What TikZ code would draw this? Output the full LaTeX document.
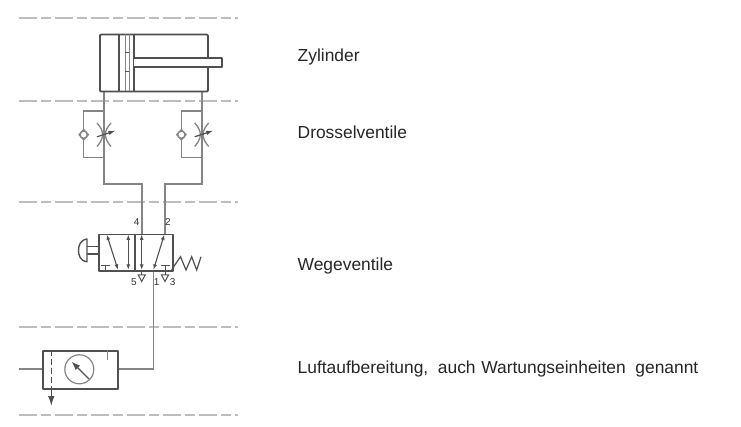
\documentclass[tikz,border=0pt]{standalone}
\usepackage{fontspec}
\setmainfont{Liberation Sans}[WordSpace=2]
\usetikzlibrary{arrows.meta,calc}
\definecolor{ink}{HTML}{505050}
\definecolor{pipe}{HTML}{858585}
\definecolor{sep}{HTML}{BDBDBD}
\tikzset{
  sepline/.style={draw=sep,line width=1.3pt,dash pattern=on 18pt off 4pt on 10pt off 4pt},
  body/.style={draw=ink,line width=1.8pt,line join=round},
  thin part/.style={draw=ink,line width=1pt},
  pipeline/.style={draw=pipe,line width=1.6pt,line join=miter},
  flow2/.style={draw=ink,line width=1.1pt,{Latex[length=5.5pt,width=4pt]}-{Latex[length=5.5pt,width=4pt]}},
  caption/.style={anchor=west,inner sep=0pt,font=\fontsize{17.4}{20}\selectfont,text=black!85},
  portno/.style={inner sep=0pt,font=\fontsize{10}{12}\selectfont,text=black!80},
}
\begin{document}
\begin{tikzpicture}[x=1pt,y=-1pt]
\useasboundingbox (0,0) rectangle (741,427);
\fill[white] (0,0) rectangle (741,427);
% separators
\foreach \y/\n in {18/a,101/b,202/c,327/d,415/e}{
  \coordinate (sepL\n) at (19,\y); \coordinate (sepR\n) at (238,\y);
  \draw[sepline] (sepL\n) -- (sepR\n);
}
% anchor points
\coordinate (cylL) at (104,90.7);
\coordinate (cylR) at (201.7,90.7);
\coordinate (tlT) at (104,111); \coordinate (tlB) at (104,157.7);
\coordinate (trT) at (201.7,111); \coordinate (trB) at (201.7,157.7);
\coordinate (v4) at (141.7,233.7);
\coordinate (v2) at (165,233.7);
\coordinate (v1) at (153.3,270.3);
\coordinate (unitR) at (117,369);
\coordinate (unitL) at (42.3,369);
\coordinate (inlet) at (19.3,369);
% pipes
\draw[pipeline] (cylL) -- (tlT) -- (tlB) -- (104,184) -| (v4);
\draw[pipeline] (cylR) -- (trT) -- (trB) -- (201.7,184) -| (v2);
\draw[pipeline] (v1) |- (unitR);
\draw[pipeline] (inlet) -- (unitL);
% bypass + throttle
\foreach \x/\n in {104/l,201.7/r}{
  \draw[pipeline,line width=1.4pt] (\x,111) -| (\x-20.3,130.5);
  \draw[pipeline,line width=1.4pt] (\x,157.7) -| (\x-20.3,139);
  \draw[pipeline,line width=1.3pt,fill=white] (\x-20.3,129.5) -- (\x-15.7,134.7) -- (\x-20.3,139.9) -- (\x-24.9,134.7) -- cycle;
  \draw[draw=pipe,line width=1.3pt,fill=white] (\x-20.3,134.7) circle (3.6);
  \draw[pipeline,line width=1.3pt] (\x-7,123) .. controls (\x+0.5,131) and (\x+0.5,138) .. (\x-7,146.5);
  \draw[pipeline,line width=1.3pt] (\x+7,123) .. controls (\x-0.5,131) and (\x-0.5,138) .. (\x+7,146.5);
  \draw[draw=ink,line width=1.2pt,-{Latex[length=7pt,width=4.5pt]}] (\x-7,136.8) -- (\x+11.5,130.7);
}
% cylinder
\node[body,minimum width=108pt,minimum height=57pt,inner sep=0pt,rounded corners=1pt,anchor=north west] (cyl) at (99,33.7) {};
\draw[body] (119.3,33.7) -- (119.3,90.7);
\draw[body] (134,33.7) -- (134,90.7);
\draw[thin part,pipe] (125.3,33.7) -- (125.3,90.7);
\draw[thin part,pipe] (129.3,33.7) -- (129.3,90.7);
\draw[thin part] (125.3,52.5) -- (129.3,52.5);
\draw[thin part] (125.3,72) -- (129.3,72);
\draw[body,fill=white] (134,57.7) -- (222,57.7) -- (222,66.7) -- (134,66.7);
% valve
\node[body,minimum width=74pt,minimum height=36.6pt,inner sep=0pt,anchor=north west] (valve) at (97.7,233.7) {};
\draw[body] (134.7,233.7) -- (134.7,270.3);
\draw[flow2] (106.7,234.5) -- (118,269.8);
\draw[flow2] (128.3,234.5) -- (128.3,269.8);
\draw[flow2] (141.7,234.5) -- (141.7,269.8);
\draw[flow2] (164.3,234.5) -- (153.5,269.8);
\foreach \x in {105,165}{
  \draw[thin part] (\x-4.5,265.3) -- (\x+4.5,265.3);
  \draw[thin part] (\x,265.3) -- (\x,270.3);
}
% port triangles
\coordinate (p5) at (141.7,270.3);
\coordinate (p3) at (165,270.3);
\draw[thin part] (p5) -- (141.7,275);
\draw[thin part] (p3) -- (165,275);
\draw[thin part,fill=white] (138.2,275) -- (145.2,275) -- (141.7,281.5) -- cycle;
\draw[thin part,fill=white] (161.5,275) -- (168.5,275) -- (165,281.5) -- cycle;
% push button
\draw[body,line width=1.4pt] (97.7,246.7) -- (87,246.7);
\draw[body,line width=1.4pt] (97.7,254) -- (87,254);
\draw[body,line width=1.4pt,fill=white] (87,239) .. controls (80,240) and (78.5,246) .. (78.5,250.4) .. controls (78.5,255) and (80,261) .. (87,261.7) -- cycle;
% spring
\draw[draw=ink,line width=1.2pt,line join=miter] (171.7,270) -- (173.5,267) -- (180.5,256.7) -- (186,270) -- (191.7,256.7) -- (196.7,270) -- (201,256.7);
% service unit
\node[body,minimum width=74.7pt,minimum height=37.7pt,inner sep=0pt,anchor=north west] (unit) at (42.3,350.3) {};
\draw[draw=ink,line width=1.2pt,dash pattern=on 6pt off 3pt] (51.3,350.3) -- (51.3,388);
\draw[draw=ink,line width=1.2pt,-{Latex[length=10pt,width=6.5pt]}] (51.3,388) -- (51.3,406);
\draw[thin part,pipe,line width=1.2pt] (107.7,350.3) -- (107.7,360);
\node[draw=pipe,line width=1.2pt,circle,minimum size=29pt,inner sep=0pt] (gauge) at (79.3,369.3) {};
\draw[draw=ink,line width=1.4pt,-{Latex[length=9pt,width=6.5pt]}] (89,379) -- (71.5,361.5);
% port labels
\node[portno] (n4) at (136.7,222.5) {4};
\node[portno] (n2) at (168,222.5) {2};
\node[portno] (n5) at (134,282) {5};
\node[portno] (n1) at (156.7,282) {1};
\node[portno] (n3) at (172.7,282) {3};
% captions
\node[caption] (zyl) at (297.5,57.5) {Zylinder};
\node[caption] (dro) at (297.5,132) {Drosselventile};
\node[caption] (weg) at (297.5,266.5) {Wegeventile};
\node[caption] (luf) at (297.5,369) {Luftaufbereitung, auch\hspace{-4pt} Wartungseinheiten genannt};
\end{tikzpicture}
\end{document}
